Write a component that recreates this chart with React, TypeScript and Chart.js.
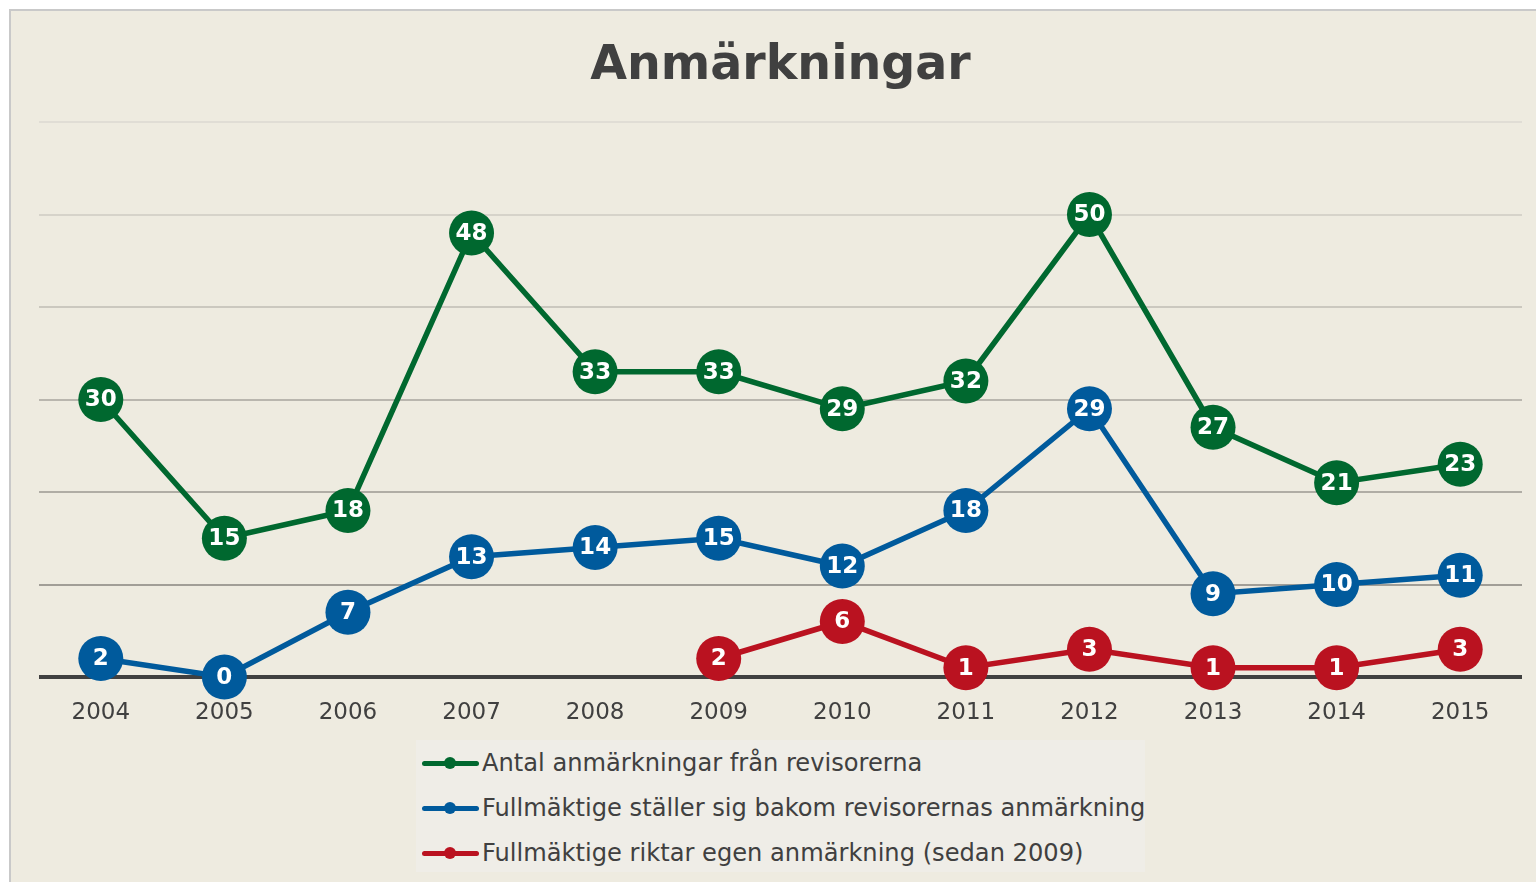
import React, { useEffect, useRef } from "react";
import { Chart, registerables } from "chart.js";

Chart.register(...registerables);

const years = ["2004", "2005", "2006", "2007", "2008", "2009", "2010", "2011", "2012", "2013", "2014", "2015"];
const antal = [30, 15, 18, 48, 33, 33, 29, 32, 50, 27, 21, 23];
const bakom = [2, 0, 7, 13, 14, 15, 12, 18, 29, 9, 10, 11];
const egen: (number | null)[] = [null, null, null, null, null, 2, 6, 1, 3, 1, 1, 3];
const seriesNames = [
  "Antal anmärkningar från revisorerna",
  "Fullmäktige ställer sig bakom revisorernas anmärkning",
  "Fullmäktige riktar egen anmärkning (sedan 2009)",
];
const seriesColors = ["#00682F", "#005A9C", "#BA1220"];

const gridColors: Record<number, string> = {
  0: "#404040",
  10: "#a19e97",
  20: "#b0ada5",
  30: "#b9b6ae",
  40: "#cbc8bf",
  50: "#d6d3ca",
  60: "#e0ddd5",
};

const labelPlugin = {
  id: "pointLabels",
  afterDatasetsDraw(chart: any) {
    const ctx = chart.ctx;
    ctx.save();
    ctx.fillStyle = "#ffffff";
    ctx.font = "bold 23px 'DejaVu Sans'";
    ctx.textAlign = "center";
    ctx.textBaseline = "middle";
    chart.data.datasets.forEach((ds: any, i: number) => {
      const meta = chart.getDatasetMeta(i);
      meta.data.forEach((pt: any, j: number) => {
        const v = ds.data[j];
        if (v === null || v === undefined) return;
        ctx.fillText(String(v), pt.x, pt.y + 1);
      });
    });
    ctx.restore();
  },
};

export default function App() {
  const ref = useRef<HTMLCanvasElement | null>(null);

  useEffect(() => {
    if (!ref.current) return;
    const mk = (data: (number | null)[], color: string, label: string) => ({
      label,
      data,
      borderColor: color,
      backgroundColor: color,
      pointBackgroundColor: color,
      pointBorderWidth: 0,
      pointRadius: 22.5,
      pointHoverRadius: 22.5,
      borderWidth: 5.5,
      tension: 0,
      spanGaps: false,
      clip: false as any,
    });
    const chart = new Chart(ref.current, {
      type: "line",
      data: {
        labels: years,
        datasets: [
          mk(antal, seriesColors[0], seriesNames[0]),
          mk(bakom, seriesColors[1], seriesNames[1]),
          mk(egen, seriesColors[2], seriesNames[2]),
        ],
      },
      options: {
        responsive: false,
        animation: false,
        devicePixelRatio: 1,
        layout: { autoPadding: false, padding: { left: 28, right: 14, top: 0, bottom: 0 } },
        plugins: {
          legend: { display: false },
          tooltip: { enabled: false },
          title: {
            display: true,
            text: "Anmärkningar",
            fullSize: false,
            color: "#404040",
            font: { family: "'DejaVu Sans'", size: 47.5, weight: "bold", lineHeight: 1.2 },
            padding: { top: 27, bottom: 27 },
          },
        },
        scales: {
          x: {
            offset: true,
            grid: { display: false },
            border: { display: false },
            ticks: {
              color: "#404040",
              font: { family: "'DejaVu Sans'", size: 23 },
              padding: 14,
              maxRotation: 0,
            },
            afterFit: (scale: any) => {
              scale.height = 60;
            },
          },
          y: {
            min: 0,
            max: 60,
            ticks: { display: false, stepSize: 10 },
            border: { display: false },
            grid: {
              drawTicks: false,
              color: (c: any) => gridColors[c.tick.value] || "#b0ada5",
              lineWidth: (c: any) => (c.tick.value === 0 ? 4 : 2),
            },
            afterFit: (scale: any) => {
              scale.width = 0;
            },
          },
        },
      },
      plugins: [labelPlugin],
    });
    return () => chart.destroy();
  }, []);

  return (
    <div
      style={{
        position: "fixed",
        left: 9,
        top: 9,
        width: 1527,
        height: 873,
        boxSizing: "border-box",
        borderTop: "2px solid #c9c9c9",
        borderLeft: "2px solid #c9c9c9",
        background: "#eeebe0",
        overflow: "hidden",
        fontFamily: "'DejaVu Sans', sans-serif",
      }}
    >
      <canvas
        ref={ref}
        width={1525}
        height={726}
        style={{ position: "absolute", left: 0, top: 0, width: 1525, height: 726 }}
      />
      <div
        style={{
          position: "absolute",
          left: 405,
          top: 729,
          width: 729,
          height: 132,
          background: "#efede7",
        }}
      >
        {seriesNames.map((name, i) => (
          <div
            key={name}
            style={{
              position: "absolute",
              left: 0,
              top: 23 + i * 45 - 16,
              height: 32,
              width: 729,
            }}
          >
            <div
              style={{
                position: "absolute",
                left: 6,
                top: 13.5,
                width: 57,
                height: 5,
                borderRadius: 3,
                background: seriesColors[i],
              }}
            />
            <div
              style={{
                position: "absolute",
                left: 28,
                top: 10,
                width: 12,
                height: 12,
                borderRadius: 6,
                background: seriesColors[i],
              }}
            />
            <div
              style={{
                position: "absolute",
                left: 66,
                top: 0,
                lineHeight: "32px",
                fontSize: 24.15,
                color: "#404040",
                whiteSpace: "nowrap",
              }}
            >
              {name}
            </div>
          </div>
        ))}
      </div>
    </div>
  );
}
